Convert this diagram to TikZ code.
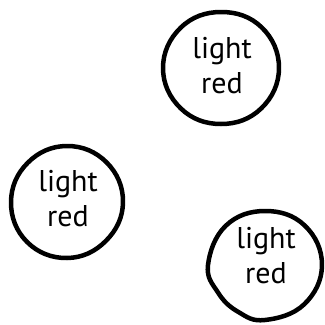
\documentclass[tikz,border=0pt]{standalone}
\usepackage{fontspec}
\setmainfont{PT Sans}
\begin{document}
\begin{tikzpicture}[x=1pt,y=-1pt,
  lbl/.style={align=center,font=\fontsize{30}{35}\selectfont,inner sep=0pt},
  wob/.style={line width=4.5pt,line join=round}]
\useasboundingbox (0,0) rectangle (325,325);
\node[lbl] (a) at (222,66) {light\\red};
\node[lbl] (b) at (68,199) {light\\red};
\node[lbl] (c) at (266,256) {light\\red};
\coordinate (ac) at (221,68);
\coordinate (bc) at (67,202);
\coordinate (cc) at (265,265);
\begin{scope}[shift={(ac)}]
\draw[wob] plot[smooth cycle,tension=0.7] coordinates {(0:58) (45:57) (90:56) (135:57) (180:58) (225:57) (270:56) (315:57.5)};
\end{scope}
\begin{scope}[shift={(bc)}]
\draw[wob] plot[smooth cycle,tension=0.7] coordinates {(0:56) (45:55) (90:56) (135:56.5) (180:56) (225:55.5) (270:56) (315:56)};
\end{scope}
\begin{scope}[shift={(cc)}]
\draw[wob] plot[smooth cycle,tension=0.7] coordinates {(0:57) (45:55.5) (90:55) (120:54) (150:54.5) (180:57) (225:55.5) (270:54) (315:56)};
\end{scope}
\end{tikzpicture}
\end{document}
